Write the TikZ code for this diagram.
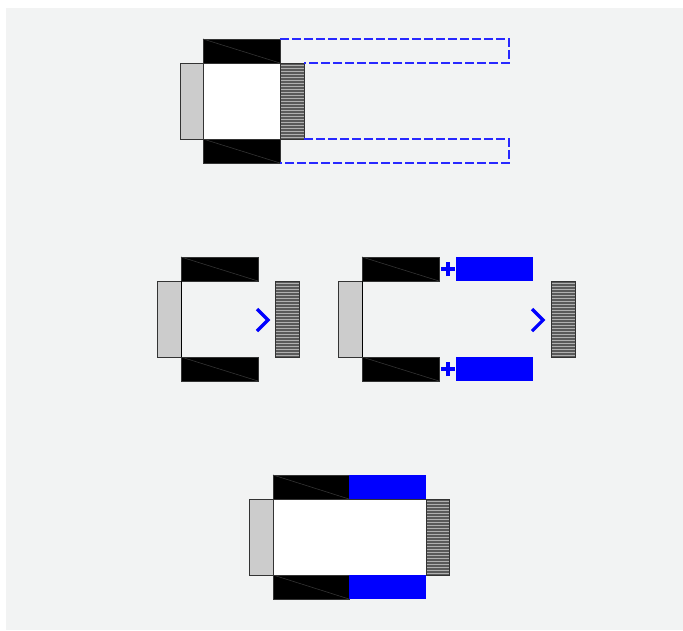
\documentclass[tikz,border=0pt]{standalone}
\usetikzlibrary{positioning}
\definecolor{bgc}{HTML}{F2F3F3}
\definecolor{edge}{HTML}{333333}
\definecolor{lgray}{HTML}{CCCCCC}
\definecolor{hatchd}{HTML}{5A5A5A}
\definecolor{hatchl}{HTML}{B0B0B0}
\definecolor{dblue}{RGB}{40,40,255}
\tikzset{
  x=1pt,y=-1pt,
  box/.style={draw=edge,line width=0.7pt,inner sep=0pt,outer sep=0pt,anchor=north west},
  bar/.style={box,fill=black,minimum width=77pt,minimum height=24pt},
  bluebar/.style={inner sep=0pt,outer sep=0pt,anchor=north west,fill=blue,minimum width=77pt,minimum height=24pt},
  side/.style={box,fill=lgray,minimum width=24pt,minimum height=76pt},
  core/.style={box,fill=white,minimum height=76pt},
  hatchbox/.style={box,fill=hatchd,minimum width=24pt,minimum height=76pt},
  diag/.style={draw=edge,line width=0.6pt},
  dashblue/.style={draw=dblue,line width=1.1pt,dash pattern=on 9pt off 3pt},
  sign/.style={draw=blue,line width=3.2pt},
}
\newcommand\myhatch[1]{%
  \foreach \k in {2,5,...,74}{\draw[hatchl,line width=0.7pt] ([yshift=-\k pt]#1.north west) -- ([yshift=-\k pt]#1.north east);}
  \draw[edge,line width=0.7pt] (#1.north west) rectangle (#1.south east);}
\newcommand\mybar[1]{\draw[diag] (#1.north west) -- (#1.south east);}
\begin{document}
\begin{tikzpicture}
\useasboundingbox (0,0) rectangle (683,630);
\fill[bgc] (6,8) rectangle (683,630);

% ---- top figure ----
\node[bar] (t1) at (203,39) {};
\node[side] (t2) at (180,63) {};
\node[core,minimum width=77pt] (t3) at (203,63) {};
\node[hatchbox] (t4) at (280,63) {};
\node[bar] (t5) at (203,139) {};
\mybar{t1}\mybar{t5}\myhatch{t4}
\coordinate (ta) at (509,39);
\coordinate (tb) at (509,63);
\coordinate (tc) at (509,139);
\coordinate (td) at (509,163);
\draw[dashblue] (t1.north east) -- (ta) -- (tb) -- (t4.north east);
\draw[dashblue] (t4.south east) -- (tc) -- (td) -- (t5.south east);

% ---- middle left ----
\node[bar] (a1) at (181,257) {};
\node[side] (a2) at (157,281) {};
\node[bar] (a3) at (181,357) {};
\node[hatchbox] (a4) at (275,281) {};
\mybar{a1}\mybar{a3}\myhatch{a4}
\draw[black,line width=0.7pt] (a2.north east) -- (a2.south east);
\coordinate (a5) at (268,320);
\draw[sign] ([shift={(-11,-11)}]a5) -- (a5) -- ([shift={(-11,11)}]a5);

% ---- middle right ----
\node[bar] (b1) at (362,257) {};
\node[side] (b2) at (338,281) {};
\node[bar] (b3) at (362,357) {};
\node[bluebar] (b4) at (456,257) {};
\node[bluebar] (b5) at (456,357) {};
\node[hatchbox] (b6) at (551,281) {};
\mybar{b1}\mybar{b3}\myhatch{b6}
\draw[black,line width=0.7pt] (b2.north east) -- (b2.south east);
\coordinate (p1) at (448,269);
\coordinate (p2) at (448,369);
\draw[sign] ([xshift=-7pt]p1) -- ([xshift=7pt]p1) ([yshift=-7pt]p1) -- ([yshift=7pt]p1);
\draw[sign] ([xshift=-7pt]p2) -- ([xshift=7pt]p2) ([yshift=-7pt]p2) -- ([yshift=7pt]p2);
\coordinate (b7) at (543,320);
\draw[sign] ([shift={(-11,-11)}]b7) -- (b7) -- ([shift={(-11,11)}]b7);

% ---- bottom figure ----
\node[bar,minimum width=76pt] (c1) at (273,475) {};
\node[bluebar] (c2) at (349,475) {};
\node[side] (c3) at (249,499) {};
\node[core,minimum width=153pt] (c4) at (273,499) {};
\node[hatchbox,minimum width=23pt] (c5) at (426,499) {};
\node[bar,minimum width=76pt] (c6) at (273,575) {};
\node[bluebar] (c7) at (349,575) {};
\mybar{c1}\mybar{c6}\myhatch{c5}
\end{tikzpicture}
\end{document}
